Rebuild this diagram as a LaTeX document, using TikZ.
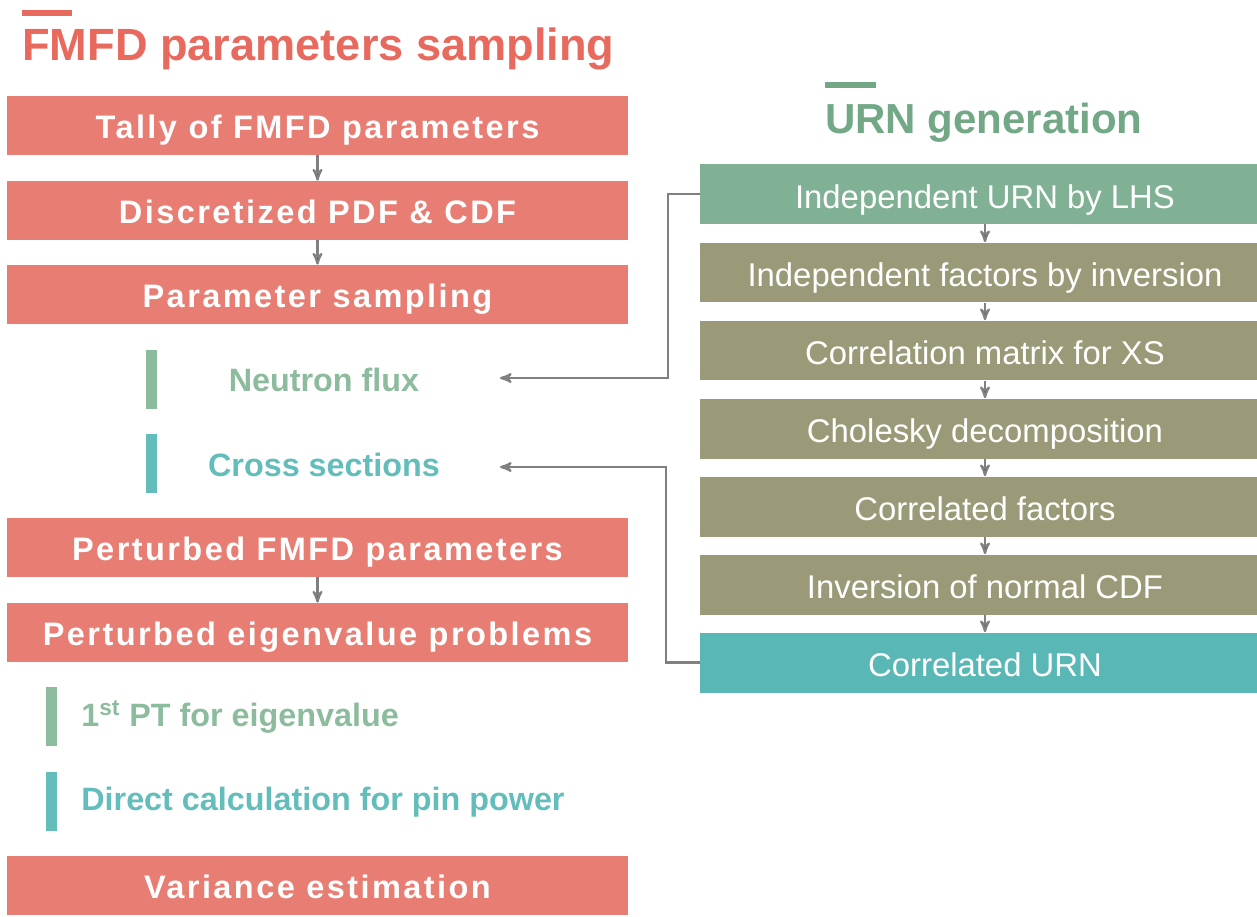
\documentclass[tikz,border=0pt]{standalone}
\usepackage{fontspec}
\setmainfont{Liberation Sans}
\usepackage{tikz}
\usetikzlibrary{positioning}
\usetikzlibrary{arrows}
\definecolor{fmfdred}{HTML}{E77D73}
\definecolor{titlered}{HTML}{E8695E}
\definecolor{urngreen}{HTML}{80B194}
\definecolor{titlegreen}{HTML}{72A886}
\definecolor{olive}{HTML}{9B9A78}
\definecolor{urnteal}{HTML}{59B8B6}
\definecolor{fluxgreen}{HTML}{8CBB9E}
\definecolor{xsteal}{HTML}{62BDBB}
\definecolor{linkgray}{HTML}{808080}
\tikzset{leftbox/.style={fill=fmfdred, text=white, minimum width=12.42cm, minimum height=1.18cm, inner sep=0pt, text height=15pt, text depth=0pt, font=\bfseries\fontsize{18.5}{20}\selectfont\addfontfeature{LetterSpace=7.5}}}
\tikzset{rightbox/.style={text=white, minimum width=11.4cm, minimum height=1.2cm, inner sep=0pt, text height=16pt, text depth=0pt, font=\fontsize{18.7}{20}\selectfont}}
\tikzset{sublabel/.style={inner sep=0pt, font=\bfseries\fontsize{18.4}{20}\selectfont}}
\tikzset{link/.style={draw=linkgray, line width=1.3pt, >=stealth'}}

\begin{document}
\begin{tikzpicture}[x=0.02cm, y=-0.02cm]
		\useasboundingbox (0,0) rectangle (1257,916);
		% titles
		\fill[titlered] (22,10) rectangle (72,16);
		\node[anchor=base west, inner sep=0pt, text=titlered, font=\bfseries\fontsize{25.7}{28}\selectfont] (ftitle) at (22,60) {FMFD parameters sampling};
		\fill[titlegreen] (825,82) rectangle (876,88);
		\node[anchor=base west, inner sep=0pt, text=titlegreen, font=\bfseries\fontsize{23.9}{26}\selectfont] (utitle) at (825,133) {URN generation};
		% left column
		\node[leftbox] (tally) at (317.5,125.5) {Tally of FMFD parameters};
		\node[leftbox] (pdf) at (317.5,210.5) {Discretized PDF \& CDF};
		\node[leftbox] (samp) at (317.5,294.5) {Parameter sampling};
		\fill[fluxgreen] (146,350) rectangle (157,409);
		\node[sublabel, text=fluxgreen] (flux) at (324,380) {Neutron flux};
		\fill[xsteal] (146,434) rectangle (157,493);
		\node[sublabel, text=xsteal] (xs) at (324,465) {Cross sections};
		\node[leftbox] (pert) at (317.5,547.5) {Perturbed FMFD parameters};
		\node[leftbox] (eig) at (317.5,632.5) {Perturbed eigenvalue problems};
		\fill[fluxgreen] (46,687) rectangle (57,746);
		\node[sublabel, text=fluxgreen, anchor=west] (pt) at (81,717) {1\textsuperscript{st} PT for eigenvalue};
		\fill[xsteal] (46,772) rectangle (57,831);
		\node[sublabel, text=xsteal, anchor=west] (pin) at (81,802) {Direct calculation for pin power};
		\node[leftbox] (var) at (317.5,885.5) {Variance estimation};
		% right column
		\node[rightbox, fill=urngreen] (lhs) at (985,194) {Independent URN by LHS};
		\node[rightbox, fill=olive] (inv) at (985,272.5) {Independent factors by inversion};
		\node[rightbox, fill=olive] (corr) at (985,350.5) {Correlation matrix for XS};
		\node[rightbox, fill=olive] (chol) at (985,428.5) {Cholesky decomposition};
		\node[rightbox, fill=olive] (cfac) at (985,506.5) {Correlated factors};
		\node[rightbox, fill=olive] (ncdf) at (985,584.5) {Inversion of normal CDF};
		\node[rightbox, fill=urnteal] (curn) at (985,662.5) {Correlated URN};
		\coordinate (fluxin) at (500,378);
		\coordinate (xsin) at (500,467);
		\path [link,->] (tally) edge (pdf);
		\path [link,->] (pdf) edge (samp);
		\path [link,->] (pert) edge (eig);
		\path [link,->] (lhs) edge (inv);
		\path [link,->] (inv) edge (corr);
		\path [link,->] (corr) edge (chol);
		\path [link,->] (chol) edge (cfac);
		\path [link,->] (cfac) edge (ncdf);
		\path [link,->] (ncdf) edge (curn);
		\draw [link,->] (lhs.west) -- ++(-32,0) |- (fluxin);
		\draw [link,->] (curn.west) -- ++(-34,0) |- (xsin);
	\end{tikzpicture}
\end{document}
